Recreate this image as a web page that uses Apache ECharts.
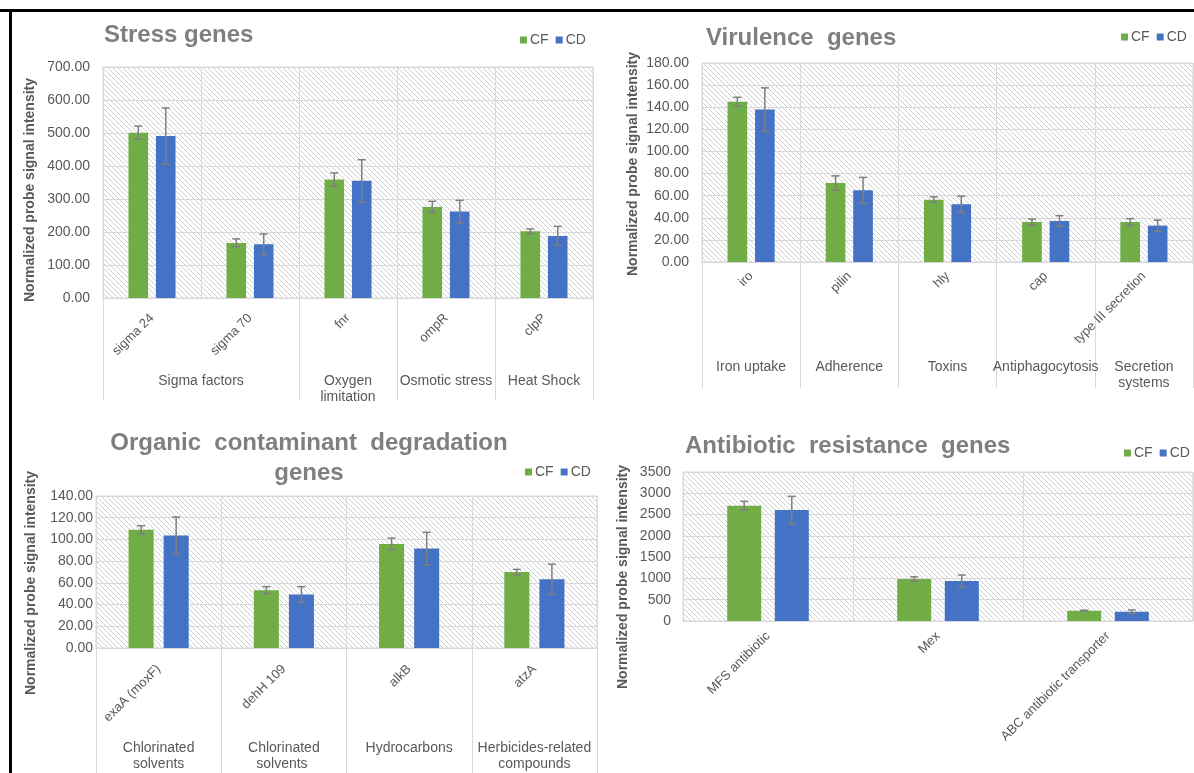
<!DOCTYPE html>
<html><head><meta charset="utf-8">
<script src="https://cdn.jsdelivr.net/npm/echarts@6/dist/echarts.min.js"></script>
<style>html,body{margin:0;padding:0;background:#fff}#c{width:1194px;height:773px}</style>
</head><body><div id="c"></div>
<script>
// ---------- DATA ----------
const stressGenes = ['sigma 24', 'sigma 70', 'fnr', 'ompR', 'clpP'];
const stressGroups = ['Sigma factors', 'Sigma factors', 'Oxygen\nlimitation', 'Osmotic stress', 'Heat Shock'];
const stressCF = [501, 167, 359, 276, 202];
const stressCFErr = [20, 12, 20, 17, 7];
const stressCD = [491, 163, 355, 262, 188];
const stressCDErr = [85, 31, 64, 34, 29];

const virGenes = ['iro', 'pilin', 'hly', 'cap', 'type III secretion'];
const virGroups = ['Iron uptake', 'Adherence', 'Toxins', 'Antiphagocytosis', 'Secretion\nsystems'];
const virCF = [145, 71.4, 56.4, 36.2, 36.2];
const virCFErr = [4, 6.5, 2.5, 2.6, 3];
const virCD = [138, 64.8, 52.2, 37.1, 32.9];
const virCDErr = [19.5, 11.7, 7.4, 4.8, 5];

const orgGenes = ['exaA (moxF)', 'dehH 109', 'alkB', 'atzA'];
const orgGroups = ['Chlorinated\nsolvents', 'Chlorinated\nsolvents ', 'Hydrocarbons', 'Herbicides-related\ncompounds'];
const orgCF = [108.8, 53.3, 95.9, 69.9];
const orgCFErr = [3.8, 3.2, 5.3, 2.5];
const orgCD = [103.6, 49.3, 91.6, 63.4];
const orgCDErr = [17, 7.2, 15, 13.8];

const abGenes = ['MFS antibiotic', 'Mex', 'ABC antibiotic transporter'];
const abCF = [2709, 987, 243];
const abCFErr = [102, 50, 10];
const abCD = [2607, 940, 219];
const abCDErr = [321, 141, 40];

const stressTicks = {max: 700, interval: 100, decimals: 2};
const virTicks = {max: 180, interval: 20, decimals: 2};
const orgTicks = {max: 140, interval: 20, decimals: 2};
const abTicks = {max: 3500, interval: 500, decimals: 0};

// ---------- STYLE ----------
const FONT = '"Liberation Sans", Arial, sans-serif';
const GREEN = '#70ad47', BLUE = '#4472c4', ERRC = '#7f7f7f', TXT = '#595959', GRIDC = '#d9d9d9', TITLEC = '#7f7f7f';

function hatchPattern() {
  const s = 5;
  const c = document.createElement('canvas');
  c.width = s; c.height = s;
  const g = c.getContext('2d');
  g.fillStyle = '#ffffff'; g.fillRect(0, 0, s, s);
  g.strokeStyle = '#cfcfcf'; g.lineWidth = 1;
  g.beginPath();
  for (const k of [-s, 0, s]) { g.moveTo(0, k); g.lineTo(s, s + k); }
  g.stroke();
  return {image: c, repeat: 'repeat'};
}
const pattern = hatchPattern();

const panels = [
  {genes: stressGenes, groups: stressGroups, cf: stressCF, cfErr: stressCFErr, cd: stressCD, cdErr: stressCDErr, ticks: stressTicks,
   grid: {left: 103, top: 67, width: 490, height: 231}, yMargin: 13, geneMargin: 18, groupMargin: 75, sepLen: 102,
   title: {text: 'Stress genes', x: 104, y: 35, align: 'left'}, yName: {x: 30, y: 190}, legend: {left: 520, top: 33}},
  {genes: virGenes, groups: virGroups, cf: virCF, cfErr: virCFErr, cd: virCD, cdErr: virCDErr, ticks: virTicks,
   grid: {left: 702, top: 63, width: 491, height: 199}, yMargin: 13, geneMargin: 12, groupMargin: 97, sepLen: 126,
   title: {text: 'Virulence  genes', x: 706, y: 38, align: 'left'}, yName: {x: 633, y: 164}, legend: {left: 1121, top: 30}},
  {genes: orgGenes, groups: orgGroups, cf: orgCF, cfErr: orgCFErr, cd: orgCD, cdErr: orgCDErr, ticks: orgTicks,
   grid: {left: 96, top: 496, width: 501, height: 152}, yMargin: 3, geneMargin: 19, groupMargin: 92, sepLen: 125,
   title: {text: 'Organic  contaminant  degradation\ngenes', x: 309, y: 458, align: 'center'}, yName: {x: 31, y: 583}, legend: {left: 525, top: 465}},
  {genes: abGenes, groups: null, cf: abCF, cfErr: abCFErr, cd: abCD, cdErr: abCDErr, ticks: abTicks,
   grid: {left: 683, top: 472, width: 510, height: 149}, yMargin: 12, geneMargin: 13, groupMargin: 0, sepLen: 0,
   title: {text: 'Antibiotic  resistance  genes', x: 685, y: 446, align: 'left'}, yName: {x: 623, y: 577}, legend: {left: 1124, top: 446}}
];

function errRender(side) {
  return function (params, api) {
    const idx = api.value(0), v = api.value(1), e = api.value(2);
    const band = api.size([1, 0])[0];
    const p1 = api.coord([idx, v + e]);
    const p2 = api.coord([idx, v - e]);
    const x = p1[0] + side * 0.14 * band;
    const h = 4;
    const st = {stroke: ERRC, lineWidth: 1.5};
    return {type: 'group', children: [
      {type: 'line', shape: {x1: x, y1: p1[1], x2: x, y2: p2[1]}, style: st},
      {type: 'line', shape: {x1: x - h, y1: p1[1], x2: x + h, y2: p1[1]}, style: st},
      {type: 'line', shape: {x1: x - h, y1: p2[1], x2: x + h, y2: p2[1]}, style: st}
    ]};
  };
}

const grids = [], xAxes = [], yAxes = [], series = [], legends = [], graphics = [];

graphics.push({type: 'rect', shape: {x: 0, y: 9, width: 1194, height: 3}, style: {fill: '#000'}, z: 100});
graphics.push({type: 'rect', shape: {x: 9, y: 9, width: 3, height: 764}, style: {fill: '#000'}, z: 100});

panels.forEach((p, i) => {
  grids.push(Object.assign({show: true, backgroundColor: pattern, borderColor: GRIDC, borderWidth: 1, containLabel: false}, p.grid));
  const primaryIndex = xAxes.length;
  xAxes.push({
    type: 'category', gridIndex: i, data: p.genes,
    axisLine: {show: true, lineStyle: {color: GRIDC, width: 1}},
    axisTick: {show: false},
    splitLine: {show: true, interval: 0, lineStyle: {color: GRIDC, width: 1}},
    axisLabel: {interval: 0, rotate: 45, margin: p.geneMargin, fontSize: 13, color: TXT, fontFamily: FONT}
  });
  if (p.groups) {
    // half-step points: group boundaries and group centres
    const n = p.genes.length;
    const pts = [];
    for (let k = 0; k <= 2 * n; k++) pts.push('__' + k);
    const bounds = new Set([0]);
    const centers = new Set();
    let s = 0;
    for (let k = 1; k <= n; k++) {
      if (k === n || p.groups[k] !== p.groups[s]) {
        bounds.add(2 * k);
        const c = s + k;
        centers.add(c);
        pts[c] = p.groups[s];
        s = k;
      }
    }
    xAxes.push({
      type: 'category', gridIndex: i, position: 'bottom', offset: 0, boundaryGap: false, data: pts,
      axisLine: {show: false},
      axisTick: {show: true, length: p.sepLen, interval: (idx) => bounds.has(idx), lineStyle: {color: GRIDC, width: 1}},
      splitLine: {show: false},
      axisLabel: {interval: (idx) => centers.has(idx), margin: p.groupMargin, fontSize: 14, lineHeight: 16,
        color: TXT, fontFamily: FONT, verticalAlign: 'top', align: 'center'}
    });
  }
  const dec = p.ticks.decimals;
  yAxes.push({
    type: 'value', gridIndex: i, min: 0, max: p.ticks.max, interval: p.ticks.interval,
    axisLine: {show: false}, axisTick: {show: false},
    splitLine: {show: true, lineStyle: {color: GRIDC, width: 1}},
    axisLabel: {formatter: (v) => v.toFixed(dec), fontSize: 14, color: TXT, fontFamily: FONT, margin: p.yMargin}
  });
  const barCommon = {type: 'bar', xAxisIndex: primaryIndex, yAxisIndex: i, barWidth: '20%', barGap: '40%', z: 2};
  series.push(Object.assign({name: 'CF', data: p.cf, itemStyle: {color: GREEN}}, barCommon));
  series.push(Object.assign({name: 'CD', data: p.cd, itemStyle: {color: BLUE}}, barCommon));
  series.push({type: 'custom', name: 'CF error', xAxisIndex: primaryIndex, yAxisIndex: i, z: 3,
    data: p.cf.map((v, j) => [j, v, p.cfErr[j]]), encode: {x: 0, y: 1}, renderItem: errRender(-1)});
  series.push({type: 'custom', name: 'CD error', xAxisIndex: primaryIndex, yAxisIndex: i, z: 3,
    data: p.cd.map((v, j) => [j, v, p.cdErr[j]]), encode: {x: 0, y: 1}, renderItem: errRender(1)});

  legends.push({data: ['CF', 'CD'], left: p.legend.left, top: p.legend.top, padding: 0, icon: 'rect',
    itemWidth: 7, itemHeight: 7, itemGap: 7, selectedMode: false,
    textStyle: {fontSize: 14, color: TXT, fontFamily: FONT, lineHeight: 14, padding: [0, 0, 0, -2]}});

  graphics.push({type: 'text', x: p.title.x, y: p.title.y, z: 50,
    style: {text: p.title.text, font: 'bold 24px ' + FONT, fill: TITLEC, align: p.title.align, verticalAlign: 'middle', lineHeight: 30}});
  graphics.push({type: 'text', x: p.yName.x, y: p.yName.y, rotation: Math.PI / 2, z: 50,
    style: {text: 'Normalized probe signal intensity', font: 'bold 14px ' + FONT, fill: TXT, align: 'center', verticalAlign: 'middle'}});
});

const chart = echarts.init(document.getElementById('c'), null, {renderer: 'canvas'});
chart.setOption({
  backgroundColor: '#ffffff',
  animation: false,
  textStyle: {fontFamily: FONT},
  grid: grids, xAxis: xAxes, yAxis: yAxes, series: series, legend: legends,
  graphic: graphics
});
</script></body></html>
